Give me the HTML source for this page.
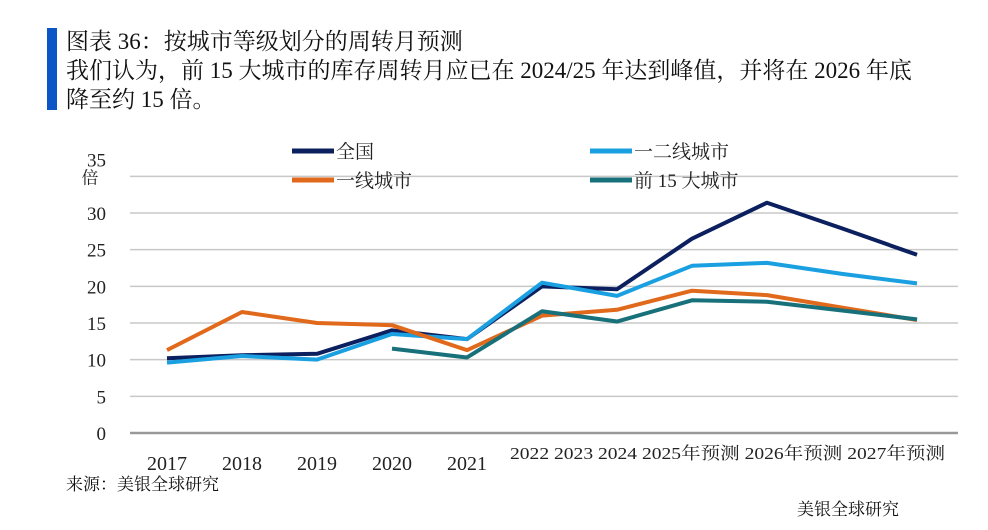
<!DOCTYPE html>
<html><head><meta charset="utf-8"><style>
body{margin:0;background:#fff;width:988px;height:530px;overflow:hidden;font-family:"Liberation Serif","Noto Serif CJK SC",serif;color:#111}
.t{position:absolute;left:66px;font-size:23px;line-height:29px;white-space:nowrap}
</style></head><body>
<div style="position:absolute;left:47px;top:28px;width:10px;height:82px;background:#0b55c6"></div>
<div class="t" style="top:27px">图表 36：按城市等级划分的周转月预测</div>
<div class="t" style="top:56px">我们认为，前 15 大城市的库存周转月应已在 2024/25 年达到峰值，并将在 2026 年底<br>降至约 15 倍。</div>
<svg id="c" width="988" height="530" style="position:absolute;left:0;top:0"></svg>
<div style="position:absolute;left:66px;top:470px;font-size:17px">来源：美银全球研究</div>
<div style="position:absolute;left:797px;top:495px;font-size:17px">美银全球研究</div>
<script>
const categories=["2017","2018","2019","2020","2021","2022","2023","2024","2025年预测","2026年预测","2027年预测"];
const yTicks=[0,5,10,15,20,25,30,35];
const national=[10.2,10.6,10.8,14.0,12.8,20.0,19.6,26.5,31.4,27.9,24.3];
const tier12=[9.6,10.5,10.0,13.5,12.8,20.5,18.7,22.8,23.2,21.7,20.4];
const tier1=[11.3,16.5,15.0,14.7,11.3,16.0,16.8,19.4,18.8,17.1,15.4];
const top15=[null,null,null,11.5,10.3,16.6,15.2,18.1,17.9,16.7,15.5];
const series=[
 {name:"全国",data:national,color:"#0c1f5e",lx:292,ly:151},
 {name:"一二线城市",data:tier12,color:"#1aa0e0",lx:590,ly:151},
 {name:"一线城市",data:tier1,color:"#e0691c",lx:292,ly:180},
 {name:"前 15 大城市",data:top15,color:"#17707a",lx:590,ly:180}];
const svg=document.getElementById('c');const NS="http://www.w3.org/2000/svg";
const x=i=>167+i*75, y=v=>433-v*(220/30);
function mk(t,a,p){const e=document.createElementNS(NS,t);for(const k in a)e.setAttribute(k,a[k]);(p||svg).appendChild(e);return e;}
yTicks.forEach(v=>{
 if(v>0){const g=mk('line',{x1:130,x2:958,y1:y(v),y2:y(v),stroke:'#c8c8c8','stroke-width':1.5});
 
 }
 const t=mk('text',{x:106,y:y(v)+(v==35?-10:7),'text-anchor':'end','font-size':19,fill:'#222'});t.textContent=v;
 
 
});
const u=mk('text',{x:90,y:y(35)+7,'text-anchor':'middle','font-size':17,fill:'#222'});u.textContent="倍";


const ax=mk('line',{x1:130,x2:958,y1:433,y2:433,stroke:'#999','stroke-width':2.5});


categories.slice(0,5).forEach((c,i)=>{const t=mk('text',{x:x(i),y:470,'text-anchor':'middle','font-size':20,fill:'#222'});t.textContent=c;
 
 });
const rest=mk('text',{x:510,y:459,'font-size':17,fill:'#222',textLength:435,lengthAdjust:'spacingAndGlyphs'});rest.textContent=categories.slice(5).join(' ');


series.forEach(s=>{
 let d='';let pen=false;
 s.data.forEach((v,i)=>{if(v==null){pen=false;return;}d+=(pen?'L':'M')+x(i)+','+y(v);pen=true;});
 const p=mk('path',{d:d,fill:'none',stroke:s.color,'stroke-width':4,'stroke-linejoin':'round'});
 
 
 const l=mk('line',{x1:s.lx,x2:s.lx+42,y1:s.ly,y2:s.ly,stroke:s.color,'stroke-width':5});
 
 
 const t=mk('text',{x:s.lx+44,y:s.ly+7,'font-size':19,fill:'#222'});t.textContent=s.name;
 
 
});
</script>
</body></html>
